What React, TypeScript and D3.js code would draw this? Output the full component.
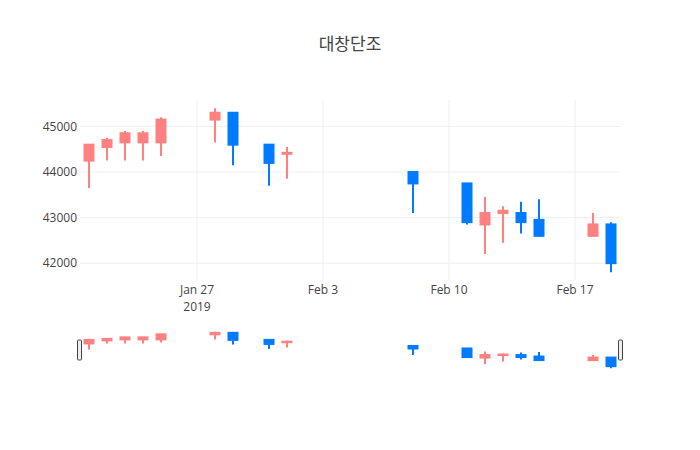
import React from 'react';
import * as d3 from 'd3';

// daily OHLC
const dates = [
  '2019-01-21', '2019-01-22', '2019-01-23', '2019-01-24', '2019-01-25',
  '2019-01-28', '2019-01-29', '2019-01-31', '2019-02-01', '2019-02-08',
  '2019-02-11', '2019-02-12', '2019-02-13', '2019-02-14', '2019-02-15',
  '2019-02-18', '2019-02-19'
];
const open = [44250, 44550, 44650, 44650, 44650, 45150, 45300, 44600, 44400, 44000, 43750, 42850, 43100, 43100, 42950, 42600, 42850];
const high = [44600, 44750, 44900, 44900, 45200, 45400, 45300, 44600, 44550, 44000, 43750, 43450, 43250, 43350, 43400, 43100, 42900];
const low = [43650, 44250, 44250, 44250, 44350, 44650, 44150, 43700, 43850, 43100, 42850, 42200, 42450, 42650, 42600, 42600, 41800];
const close = [44600, 44700, 44850, 44850, 45150, 45300, 44600, 44200, 44420, 43750, 42900, 43100, 43150, 42900, 42600, 42850, 42000];

const yTicks = [42000, 43000, 44000, 45000];
const xTicks = ['2019-01-27', '2019-02-03', '2019-02-10', '2019-02-17'];
const title = '대창단조';

const UP = '#FF8080';
const DOWN = '#007BFF';
const FONT = '"Open Sans", "Noto Sans CJK KR", sans-serif';

const W = 700;
const H = 450;
const left = 80;
const right = 620;
const mainTop = 100;
const mainBottom = 280.5;
const sliderTop = 330;
const sliderBottom = 370;

const parse = (s: string) => new Date(s + 'T00:00:00Z');
const DAY = 864e5;

export default function App() {
  const ds = dates.map(parse);
  const x = d3.scaleUtc()
    .domain([new Date(+ds[0] - DAY / 2), new Date(+ds[ds.length - 1] + DAY / 2)])
    .range([left, right]);

  const lo = d3.min(low) as number;
  const hi = d3.max(high) as number;
  const pad = (hi - lo) * 0.05;
  const y = d3.scaleLinear().domain([lo - pad, hi + pad]).range([mainBottom, mainTop]);
  const ys = d3.scaleLinear().domain([lo - pad, hi + pad]).range([sliderBottom, sliderTop]);

  const half = (x(new Date(+ds[0] + DAY)) - x(ds[0])) * 0.25;

  const candles = (yy: d3.ScaleLinear<number, number>, key: string) =>
    ds.map((d, i) => {
      const up = close[i] > open[i];
      const c = up ? UP : DOWN;
      const cx = x(d);
      const bt = yy(Math.max(open[i], close[i]));
      const bb = yy(Math.min(open[i], close[i]));
      return (
        <g key={key + i}>
          <line x1={cx} x2={cx} y1={yy(high[i])} y2={yy(low[i])} stroke={c} strokeWidth={2} />
          <rect x={cx - half} y={bt} width={half * 2} height={Math.max(bb - bt, 0.5)}
            fill={c} stroke={c} strokeWidth={2} />
        </g>
      );
    });

  return (
    <div style={{ position: 'absolute', left: 0, top: 0 }}>
      <svg width={W} height={H} style={{ display: 'block', background: '#fff' }}>
        <text x={350} y={50} textAnchor="middle" fontFamily={FONT} fontSize={17} fill="#444">{title}</text>

        {yTicks.map(t => (
          <g key={t}>
            <line x1={left} x2={right} y1={y(t)} y2={y(t)} stroke="#eee" />
            <text x={77} y={y(t)} dy="0.35em" textAnchor="end" fontFamily={FONT} fontSize={12} fill="#444">{t}</text>
          </g>
        ))}
        {xTicks.map((t, i) => {
          const px = x(parse(t));
          return (
            <g key={t}>
              <line x1={px} x2={px} y1={mainTop} y2={mainBottom} stroke="#eee" />
              <text x={px} y={294} textAnchor="middle" fontFamily={FONT} fontSize={12} fill="#444">
                {d3.utcFormat('%b %-d')(parse(t))}
              </text>
              {i === 0 && (
                <text x={px} y={311} textAnchor="middle" fontFamily={FONT} fontSize={12} fill="#444">2019</text>
              )}
            </g>
          );
        })}

        {candles(y, 'm')}
        {candles(ys, 's')}

        <rect x={77.5} y={340} width={4} height={20} rx={1} fill="#eee" stroke="#444" />
        <rect x={618.5} y={340} width={4} height={20} rx={1} fill="#eee" stroke="#444" />
      </svg>
    </div>
  );
}
